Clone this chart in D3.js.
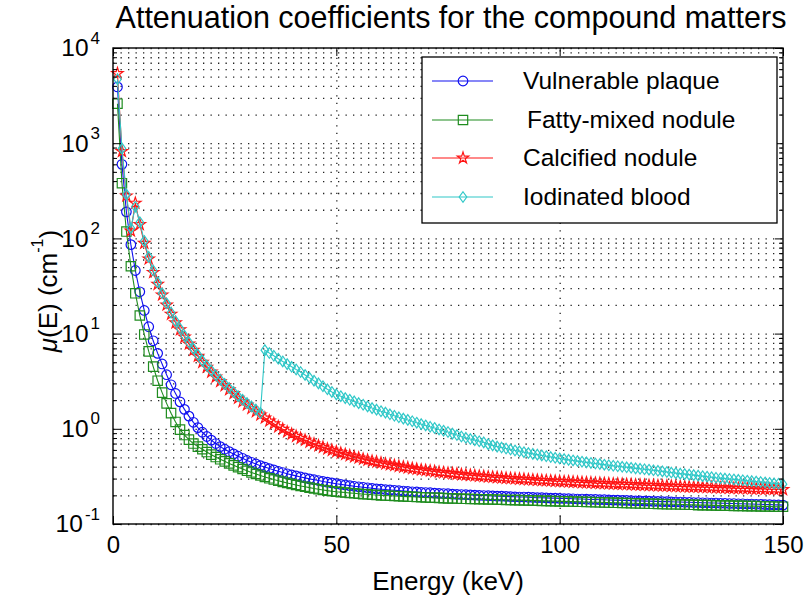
<!DOCTYPE html>
<html><head><meta charset="utf-8">
<script src="https://cdn.jsdelivr.net/npm/d3@7"></script>
<style>
html,body{margin:0;padding:0;background:#fff;}
svg{display:block;font-family:"Liberation Sans",Arial,Helvetica,sans-serif;}
</style></head><body>
<svg id="chart" width="805" height="609"></svg>
<script>
// ---------------- data ----------------
const titleText = "Attenuation coefficients for the compound matters";
const xLabel = "Energy (keV)";
const seriesNames = ["Vulnerable plaque", "Fatty-mixed nodule", "Calcified nodule", "Iodinated blood"];
const xTicks = [0, 50, 100, 150];
const yTickExponents = [-1, 0, 1, 2, 3, 4];
const energy = d3.range(1, 151); // keV, 1 keV steps

const vulnerablePlaque = [3900,600,190,86,46,27.5,17.5,11.8,8.4,6.2,
4.8,3.7,2.9,2.35,1.92,1.6,1.36,1.17,1.03,0.92,
0.83,0.76,0.70,0.65,0.61,0.575,0.545,0.515,0.49,0.465,
0.445,0.427,0.41,0.396,0.382,0.37,0.358,0.347,0.337,0.328,
0.32,0.312,0.305,0.298,0.292,0.286,0.28,0.275,0.27,0.265,
0.261,0.257,0.253,0.249,0.246,0.243,0.240,0.237,0.234,0.232,
0.230,0.228,0.226,0.224,0.222,0.220,0.218,0.217,0.215,0.214,
0.213,0.211,0.210,0.209,0.208,0.206,0.205,0.204,0.203,0.202,
0.201,0.200,0.199,0.198,0.197,0.196,0.196,0.195,0.194,0.193,
0.192,0.192,0.191,0.190,0.189,0.189,0.188,0.187,0.187,0.186,
0.185,0.185,0.184,0.183,0.183,0.182,0.181,0.181,0.180,0.180,
0.179,0.178,0.178,0.177,0.177,0.176,0.175,0.175,0.174,0.174,
0.173,0.173,0.172,0.172,0.171,0.170,0.170,0.169,0.169,0.168,
0.168,0.167,0.167,0.166,0.166,0.165,0.165,0.164,0.164,0.163,
0.163,0.162,0.162,0.161,0.161,0.160,0.160,0.159,0.159,0.158];

const fattyMixedNodule = [2600,380,118,51,26.5,15.5,9.8,6.5,4.5,3.2,
2.4,1.85,1.46,1.18,0.98,0.86,0.77,0.70,0.65,0.61,
0.57,0.535,0.505,0.478,0.455,0.433,0.413,0.395,0.378,0.362,
0.348,0.335,0.323,0.312,0.302,0.293,0.285,0.277,0.270,0.263,
0.257,0.251,0.246,0.241,0.236,0.232,0.228,0.224,0.221,0.218,
0.216,0.214,0.212,0.210,0.208,0.206,0.205,0.203,0.202,0.200,
0.199,0.198,0.197,0.196,0.195,0.194,0.193,0.192,0.191,0.190,
0.189,0.189,0.188,0.187,0.186,0.186,0.185,0.184,0.184,0.183,
0.183,0.182,0.182,0.181,0.181,0.180,0.180,0.179,0.179,0.178,
0.178,0.177,0.177,0.176,0.176,0.175,0.175,0.174,0.174,0.173,
0.173,0.172,0.172,0.171,0.171,0.170,0.170,0.169,0.169,0.168,
0.168,0.167,0.167,0.166,0.166,0.165,0.165,0.164,0.164,0.163,
0.163,0.162,0.162,0.161,0.161,0.161,0.160,0.160,0.159,0.159,
0.158,0.158,0.158,0.157,0.157,0.156,0.156,0.156,0.155,0.155,
0.155,0.154,0.154,0.154,0.153,0.153,0.153,0.152,0.152,0.152];

const calcifiedNodule = [5400,820,280,120,235,140,89,61,44,33,
25.5,20,16,13,11,9.2,7.8,6.7,5.8,5.0,
4.45,3.95,3.5,3.15,2.85,2.58,2.35,2.10,1.93,1.78,
1.64,1.52,1.40,1.30,1.21,1.13,1.05,0.99,0.93,0.88,
0.835,0.795,0.76,0.725,0.695,0.665,0.64,0.615,0.595,0.575,
0.556,0.539,0.523,0.508,0.494,0.481,0.469,0.458,0.448,0.438,
0.429,0.420,0.412,0.404,0.397,0.390,0.383,0.377,0.371,0.366,
0.361,0.356,0.351,0.347,0.343,0.339,0.335,0.331,0.328,0.325,
0.322,0.319,0.316,0.313,0.311,0.308,0.306,0.303,0.301,0.299,
0.297,0.295,0.293,0.291,0.289,0.287,0.286,0.284,0.282,0.281,
0.279,0.278,0.276,0.275,0.273,0.272,0.271,0.269,0.268,0.267,
0.265,0.264,0.263,0.262,0.261,0.260,0.258,0.257,0.256,0.255,
0.254,0.253,0.252,0.251,0.250,0.249,0.248,0.247,0.246,0.245,
0.245,0.244,0.243,0.242,0.241,0.240,0.240,0.239,0.238,0.237,
0.237,0.236,0.235,0.234,0.234,0.233,0.232,0.232,0.231,0.230];

const iodinatedBlood = [4700,880,290,128,215,148,94,64,46,34.5,
26.5,20.8,16.6,13.5,11.3,9.5,8.1,6.95,6.0,5.2,
4.6,4.1,3.65,3.28,2.96,2.68,2.44,2.2,2.02,1.86,
1.72,1.59,1.47,6.7,6.25,5.85,5.45,5.1,4.78,4.48,
4.2,3.95,3.68,3.43,3.2,3.0,2.8,2.6,2.44,2.3,
2.2,2.1,2.02,1.94,1.86,1.79,1.72,1.65,1.59,1.53,
1.48,1.42,1.37,1.32,1.28,1.24,1.20,1.16,1.12,1.085,
1.05,1.02,0.985,0.955,0.925,0.89,0.86,0.83,0.805,0.78,
0.76,0.74,0.72,0.69,0.67,0.65,0.635,0.62,0.605,0.592,
0.58,0.568,0.556,0.545,0.535,0.525,0.515,0.505,0.496,0.488,
0.48,0.472,0.465,0.458,0.451,0.444,0.438,0.432,0.426,0.42,
0.414,0.409,0.404,0.399,0.394,0.389,0.384,0.38,0.376,0.372,
0.367,0.362,0.357,0.352,0.347,0.342,0.338,0.334,0.33,0.326,
0.322,0.318,0.314,0.31,0.306,0.303,0.30,0.297,0.294,0.291,
0.288,0.285,0.282,0.279,0.276,0.273,0.27,0.267,0.265,0.262];

const seriesValues = [vulnerablePlaque, fattyMixedNodule, calcifiedNodule, iodinatedBlood];
const seriesColors = ["#1010f0", "#1f8c1f", "#ff1414", "#30c8c8"];

// ---------------- layout ----------------
const L = 113, R = 783, T = 48, B = 524;
const svg = d3.select("#chart");
const x = d3.scaleLinear().domain([0, 150]).range([L, R]);
const y = d3.scaleLog().domain([0.1, 10000]).range([B, T]);

const yMajor = yTickExponents.map(e => Math.pow(10, e));
const yMinor = [];
yTickExponents.slice(0, -1).forEach(e => { for (let m = 2; m <= 9; m++) yMinor.push(m * Math.pow(10, e)); });

// grid
const gridStyle = g => {
  g.select(".domain").remove();
  g.selectAll(".tick line").attr("stroke", "#222").attr("stroke-width", 1.3).attr("stroke-dasharray", "1.3,6.2");
};
svg.append("g").attr("transform", `translate(${L},0)`)
  .call(d3.axisLeft(y).tickValues(yMajor.concat(yMinor)).tickSize(-(R - L)).tickFormat(""))
  .call(gridStyle);
svg.append("g").attr("transform", `translate(0,${B})`)
  .call(d3.axisBottom(x).tickValues([50, 100]).tickSize(-(B - T)).tickFormat(""))
  .call(gridStyle);

// data
const line = d3.line().x((d, i) => x(energy[i])).y(d => y(d));
const diamond = { draw(ctx, size) { const h = Math.sqrt(size) * 0.62, w = h * 0.72; ctx.moveTo(0, -h); ctx.lineTo(w, 0); ctx.lineTo(0, h); ctx.lineTo(-w, 0); ctx.closePath(); } };
const symbols = [d3.symbol(d3.symbolCircle, 72), d3.symbol(d3.symbolSquare, 88), d3.symbol(d3.symbolStar, 40), d3.symbol(diamond, 72)];

const plot = svg.append("g");
seriesValues.forEach((vals, s) => {
  const g = plot.append("g");
  g.append("path").attr("d", line(vals)).attr("fill", "none").attr("stroke", seriesColors[s]).attr("stroke-width", 1.1);
  g.selectAll("path.m").data(vals).join("path").attr("class", "m")
    .attr("transform", (d, i) => `translate(${x(energy[i])},${y(d)})`)
    .attr("d", symbols[s]()).attr("fill", "none").attr("stroke", seriesColors[s]).attr("stroke-width", 1.2);
});

// axes box
svg.append("rect").attr("x", L).attr("y", T).attr("width", R - L).attr("height", B - T)
  .attr("fill", "none").attr("stroke", "#000").attr("stroke-width", 1.4);

const tickStyle = g => { g.select(".domain").remove(); g.selectAll(".tick line").attr("stroke", "#000").attr("stroke-width", 1); };
// left
const yAx = svg.append("g").attr("transform", `translate(${L},0)`)
  .call(d3.axisLeft(y).tickValues(yMajor).tickSize(-8).tickPadding(13).tickFormat(() => "10"))
  .call(tickStyle);
yAx.selectAll("text").attr("font-size", 24.5).attr("fill", "#000").attr("font-family", "Liberation Sans, Arial, sans-serif")
  .each(function(d) {
    const e = Math.round(Math.log10(d));
    d3.select(this).append("tspan").attr("dy", "-0.75em").attr("dx", "2").attr("font-size", 17).text(e);
  });
svg.append("g").attr("transform", `translate(${L},0)`)
  .call(d3.axisLeft(y).tickValues(yMinor).tickSize(-4).tickFormat("")).call(tickStyle);
// right
svg.append("g").attr("transform", `translate(${R},0)`)
  .call(d3.axisRight(y).tickValues(yMajor).tickSize(-8).tickFormat("")).call(tickStyle);
svg.append("g").attr("transform", `translate(${R},0)`)
  .call(d3.axisRight(y).tickValues(yMinor).tickSize(-4).tickFormat("")).call(tickStyle);
// bottom / top
const xAx = svg.append("g").attr("transform", `translate(0,${B})`)
  .call(d3.axisBottom(x).tickValues(xTicks).tickSize(-8).tickPadding(12).tickFormat(d3.format("d")))
  .call(tickStyle);
xAx.selectAll("text").attr("font-size", 24).attr("fill", "#000").attr("font-family", "Liberation Sans, Arial, sans-serif");
svg.append("g").attr("transform", `translate(0,${T})`)
  .call(d3.axisTop(x).tickValues(xTicks).tickSize(-8).tickFormat("")).call(tickStyle);

// title & labels
svg.append("text").attr("x", 451).attr("y", 28).attr("text-anchor", "middle")
  .attr("font-size", 30.5).attr("fill", "#000").text(titleText);
svg.append("text").attr("x", (L + R) / 2).attr("y", 590).attr("text-anchor", "middle")
  .attr("font-size", 26).attr("fill", "#000").text(xLabel);
const yl = svg.append("text").attr("transform", "translate(57,291) rotate(-90)").attr("text-anchor", "middle")
  .attr("font-size", 26).attr("fill", "#000");
yl.append("tspan").attr("font-style", "italic").text("\u03bc");
yl.append("tspan").text("(E) (cm");
yl.append("tspan").attr("dy", "-0.85em").attr("font-size", 16).text("-1");
yl.append("tspan").attr("dy", "0.55em").text(")");

// legend
const lg = svg.append("g");
lg.append("rect").attr("x", 422).attr("y", 57).attr("width", 355).attr("height", 166)
  .attr("fill", "#fff").attr("stroke", "#000").attr("stroke-width", 1.3);
const rowY = [81, 120, 158, 197];
seriesNames.forEach((name, s) => {
  const ry = rowY[s];
  lg.append("line").attr("x1", 432).attr("x2", 493).attr("y1", ry).attr("y2", ry)
    .attr("stroke", seriesColors[s]).attr("stroke-width", 1.1);
  lg.append("path").attr("transform", `translate(463,${ry})`).attr("d", symbols[s]())
    .attr("fill", "none").attr("stroke", seriesColors[s]).attr("stroke-width", 1.2);
  lg.append("text").attr("x", s === 1 ? 527 : 523).attr("y", ry + 8).attr("font-size", 24.5).attr("fill", "#000").text(name);
});
</script>
</body></html>
